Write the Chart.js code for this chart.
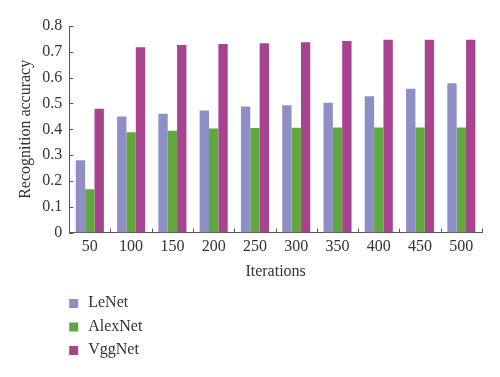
<!DOCTYPE html>
<html>
<head>
<meta charset="utf-8">
<script src="https://cdn.jsdelivr.net/npm/chart.js@4/dist/chart.umd.min.js"></script>
<style>
  html, body { margin: 0; padding: 0; background: #fff; }
  #wrap { width: 500px; height: 377px; }
</style>
</head>
<body>
<div id="wrap"><canvas id="myChart" width="500" height="377"></canvas></div>
<script>
// data
var iterations = ["50", "100", "150", "200", "250", "300", "350", "400", "450", "500"];
var lenet   = [0.28, 0.45, 0.46, 0.473, 0.488, 0.493, 0.503, 0.528, 0.557, 0.578];
var alexnet = [0.168, 0.389, 0.394, 0.403, 0.405, 0.406, 0.407, 0.407, 0.407, 0.407];
var vggnet  = [0.48, 0.718, 0.726, 0.73, 0.733, 0.737, 0.742, 0.747, 0.747, 0.747];
var yTicks  = [0, 0.1, 0.2, 0.3, 0.4, 0.5, 0.6, 0.7, 0.8];

var serif = "'Liberation Serif', 'DejaVu Serif', serif";
Chart.defaults.font.family = serif;
Chart.defaults.color = "#333";

// small tick marks drawn inward, like the original
var innerTicks = {
    id: 'innerTicks',
    afterDatasetsDraw: function(chart) {
        var ctx = chart.ctx, x = chart.scales.x, y = chart.scales.y;
        var area = chart.chartArea;
        ctx.save();
        ctx.strokeStyle = "#555";
        ctx.lineWidth = 1;
        ctx.beginPath();
        yTicks.forEach(function(v) {
            var py = Math.round(y.getPixelForValue(v)) + 0.5;
            ctx.moveTo(area.left, py);
            ctx.lineTo(area.left + 4, py);
        });
        var half = (x.getPixelForValue(1) - x.getPixelForValue(0)) / 2;
        for (var i = 0; i <= iterations.length; i++) {
            var px = Math.round(x.getPixelForValue(i) - half) + 0.5;
            ctx.moveTo(px, area.bottom);
            ctx.lineTo(px, area.bottom - 4);
        }
        ctx.stroke();
        ctx.restore();
    }
};

// vertical legend at the lower left
var columnLegend = {
    id: 'columnLegend',
    afterDraw: function(chart) {
        var ctx = chart.ctx;
        var left = chart.chartArea.left;
        ctx.save();
        ctx.font = "16px " + serif;
        ctx.textBaseline = "middle";
        chart.data.datasets.forEach(function(ds, i) {
            var cy = 303 + i * 23.5;
            ctx.fillStyle = ds.backgroundColor;
            ctx.fillRect(left, cy - 4, 9, 9);
            ctx.fillStyle = "#333";
            ctx.fillText(ds.label, left + 19, cy);
        });
        ctx.restore();
    }
};

var chart = new Chart(document.getElementById("myChart"), {
    type: 'bar',
    data: {
        labels: iterations,
        datasets: [
            { label: "LeNet",   data: lenet,   backgroundColor: "#8f8fc7" },
            { label: "AlexNet", data: alexnet, backgroundColor: "#61a63e" },
            { label: "VggNet",  data: vggnet,  backgroundColor: "#a8448f" }
        ]
    },
    options: {
        responsive: false,
        animation: false,
        devicePixelRatio: 1,
        layout: { padding: { left: 16, right: 18, top: 26, bottom: 96 } },
        datasets: { bar: { barPercentage: 1, categoryPercentage: 0.68, borderWidth: 0 } },
        plugins: {
            legend: { display: false },
            tooltip: { enabled: false }
        },
        scales: {
            x: {
                grid: { display: false, drawTicks: false },
                border: { display: true, color: "#555", width: 1 },
                ticks: { font: { size: 16 }, color: "#333", padding: 5 },
                title: { display: true, text: "Iterations", font: { size: 16 }, color: "#333", padding: { top: 0, bottom: 0 } }
            },
            y: {
                min: 0, max: 0.8,
                afterBuildTicks: function(axis) { axis.ticks = yTicks.map(function(v) { return { value: v }; }); },
                grid: { display: false, drawTicks: false },
                border: { display: true, color: "#555", width: 1 },
                ticks: { font: { size: 16 }, color: "#333", padding: 7 },
                title: { display: true, text: "Recognition accuracy", font: { size: 16 }, color: "#333", padding: { top: 0, bottom: 0 } }
            }
        }
    },
    plugins: [innerTicks, columnLegend]
});
</script>
</body>
</html>
